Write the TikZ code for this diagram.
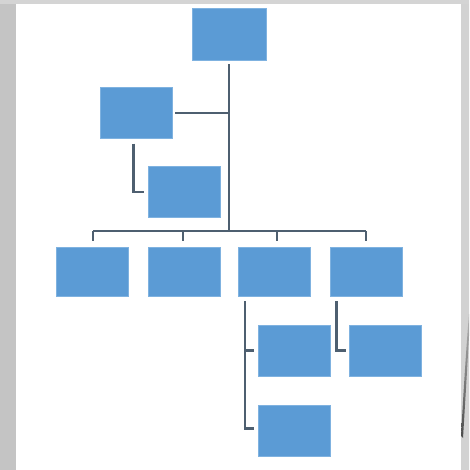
\documentclass[tikz,border=0pt]{standalone}
\usetikzlibrary{calc}
\definecolor{boxblue}{HTML}{5B9BD5}
\definecolor{boxedge}{HTML}{7FB2E0}
\definecolor{linecol}{HTML}{4E5F70}
\definecolor{bggray}{HTML}{D2D2D2}
\definecolor{bgdark}{HTML}{C4C4C4}
\begin{document}
\begin{tikzpicture}[x=1pt,y=-1pt,
  orgbox/.style={rectangle,fill=boxblue,draw=boxedge,line width=0.5pt,inner sep=0pt,minimum width=72pt,minimum height=51pt},
  conn/.style={draw=linecol,line width=2.1pt,line cap=butt},
  thickconn/.style={draw=linecol,line width=2.8pt}]
\useasboundingbox (0,0) rectangle (469,470);
% background
\shade[left color=bgdark,right color=bggray] (0,0) rectangle (469,470);
\fill[bggray!95!white] (0,0) rectangle (469,4);
% page curl shadow
\shade[top color=gray!60, bottom color=black!70] (461,436) .. controls (463,400) and (466,350) .. (469,314) -- (469,336) .. controls (467,372) and (465,405) .. (463,438) -- cycle;
% white panel
\fill[white] (16,4) rectangle (461,470);
% boxes
\node[orgbox, minimum width=74pt, minimum height=52pt] (top) at (229,34) {};
\node[orgbox] (a1) at (136,113) {};
\node[orgbox] (a2) at (184,192) {};
\node[orgbox, minimum height=49pt] (c1) at (92,271.5) {};
\node[orgbox, minimum height=49pt] (c2) at (184,271.5) {};
\node[orgbox, minimum height=49pt] (c3) at (274,271.5) {};
\node[orgbox, minimum height=49pt] (c4) at (366,271.5) {};
\node[orgbox] (d1) at (294,350.5) {};
\node[orgbox] (d2) at (294,430.5) {};
\node[orgbox] (e1) at (385,350.5) {};
\coordinate (bus) at (229,231);
% trunk
\draw[conn, shorten <=4pt] (top.south) -- (bus);
% assistant 1
\draw[thickconn, shorten <=3pt] (a1.east) -- (a1.east -| top.south);
% assistant 1 -> assistant 2
\draw[conn] ([xshift=-2.5pt,yshift=-5pt]a1.south) |- ([xshift=-4pt]a2.west);
% bus
\draw[conn] ([xshift=1pt]c1.north |- bus) -- (c4.north |- bus);
\draw[conn] ([xshift=1pt]c1.north |- bus) -- ([xshift=1pt,yshift=6pt]c1.north);
\draw[conn] ([xshift=-1pt]c2.north |- bus) -- ([xshift=-1pt,yshift=6pt]c2.north);
\draw[conn] ([xshift=3pt]c3.north |- bus) -- ([xshift=3pt,yshift=6pt]c3.north);
\draw[conn] (c4.north |- bus) -- ([yshift=6pt]c4.north);
% c3 children
\draw[conn] ([xshift=7pt,yshift=-5pt]c3.south west) |- ([xshift=-4pt,yshift=2pt]d2.west);
\draw[conn] ([xshift=7pt]c3.south west |- d1.west) -- ([xshift=-4pt]d1.west);
% c4 child
\draw[thickconn] ([xshift=7pt,yshift=-5pt]c4.south west) |- ([xshift=-3pt]e1.west);
\end{tikzpicture}
\end{document}
